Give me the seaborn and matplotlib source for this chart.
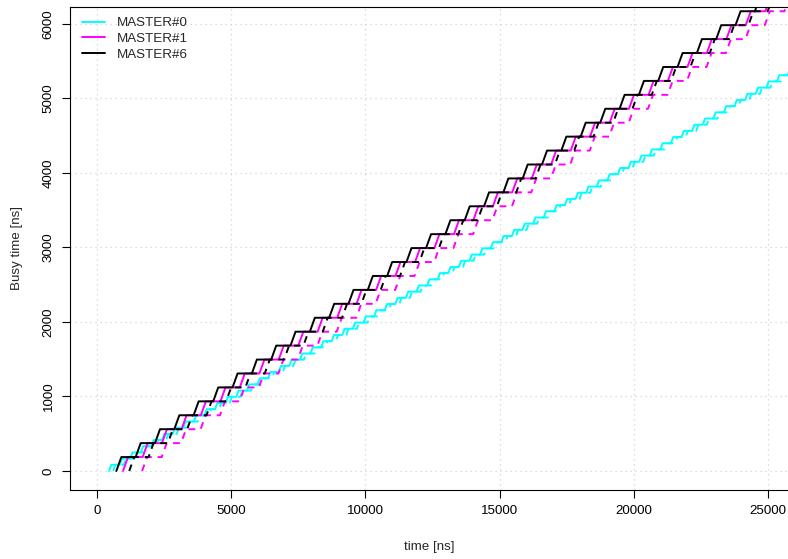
import matplotlib
matplotlib.use('Agg')
import matplotlib.pyplot as plt
from matplotlib.lines import Line2D
import pandas as pd
import seaborn as sns

# Start times [ns] of each busy burst
cyan_starts = [450, 845, 1240, 1635, 2030, 2425, 2820, 3215, 3610, 4005, 4400, 4795,
               5190, 5585, 5980, 6375, 6770, 7165, 7560, 7955, 8350, 8745, 9140, 9535,
               9930, 10325, 10720, 11115, 11510, 11905, 12300, 12695, 13090, 13485,
               13880, 14275, 14670, 15065, 15460, 15855, 16250, 16645, 17040, 17435,
               17830, 18225, 18620, 19015, 19410, 19805, 20200, 20595, 20990, 21385,
               21780, 22175, 22570, 22965, 23360, 23755, 24150, 24545, 24940, 25335, 25730]
magenta_starts = [970, 1700, 2420, 3150, 3870, 4600, 5320, 6050, 6770, 7500, 8220, 8950,
                  9670, 10400, 11120, 11850, 12570, 13300, 14020, 14750, 15470, 16200,
                  16920, 17650, 18370, 19100, 19820, 20550, 21270, 22000, 22720, 23450,
                  24170, 24900]
black_starts = [720, 1440, 2160, 2880, 3600, 4330, 5050, 5770, 6490, 7210, 7930, 8650,
                9370, 10090, 10810, 11530, 12260, 12980, 13700, 14420, 15140, 15860,
                16580, 17300, 18020, 18750, 19470, 20190, 20910, 21630, 22350, 23070,
                23790, 24510]

masters = ['MASTER#0', 'MASTER#1', 'MASTER#6']
colors = ['#00FFFF', '#FF00FF', '#000000']
starts = [cyan_starts, magenta_starts, black_starts]
burst_len = [83, 187, 187]      # busy time added per burst [ns]
dashed_lag = [150, 710, 480]    # shift of the dashed curve [ns]
t_end = 27000

x_ticks = [0, 5000, 10000, 15000, 20000, 25000]
y_ticks = [0, 1000, 2000, 3000, 4000, 5000, 6000]


def busy_curve(st, d):
    xs, ys = [], []
    y = 0
    for t in st:
        xs += [t, t + d]
        ys += [y, y + d]
        y += d
    xs.append(t_end)
    ys.append(y)
    return xs, ys


rows = []
for name, st, d, lag in zip(masters, starts, burst_len, dashed_lag):
    xs, ys = busy_curve(st, d)
    for i, (x, y) in enumerate(zip(xs, ys)):
        rows.append((name, 'busy', i, x, y))
        rows.append((name, 'lagged', i, x + lag, y))
df = pd.DataFrame(rows, columns=['master', 'kind', 'i', 'time', 'busy'])

sns.set_style('white')
plt.rcParams['font.family'] = ['Liberation Sans', 'DejaVu Sans']

fig = plt.figure(figsize=(7.88, 5.59), dpi=100)
ax = fig.add_axes([70 / 788, 69 / 559, 718 / 788, 483 / 559])

for name, c in zip(masters, colors):
    sub = df[df['master'] == name]
    s = sub[sub['kind'] == 'busy']
    sns.lineplot(x=s['time'].values, y=s['busy'].values, color=c, lw=1.4,
                 sort=False, estimator=None, ax=ax)
    s = sub[sub['kind'] == 'lagged']
    line = sns.lineplot(x=s['time'].values, y=s['busy'].values, color=c, lw=1.4,
                        sort=False, estimator=None, ax=ax).lines[-1]
    line.set_dashes((3.5, 3))

ax.set_xlim(-1006, 25745)
ax.set_ylim(-255, 6228)
ax.set_xticks(x_ticks)
ax.set_yticks(y_ticks)
ax.set_xticklabels([str(v) for v in x_ticks])
ax.set_yticklabels([str(v) for v in y_ticks], rotation=90, va='center')
ax.grid(True, color='#D3D3D3', linestyle=(0, (1, 3)), lw=0.9)
ax.set_axisbelow(True)

for side in ['left', 'bottom', 'top']:
    ax.spines[side].set_color('black')
    ax.spines[side].set_linewidth(0.8)
ax.spines['right'].set_visible(False)
ax.tick_params(axis='both', direction='out', length=5.5, width=0.8, color='black',
               pad=5.5, labelsize=9.6, labelcolor='black', bottom=True, left=True)
ax.set_xlabel('time [ns]', fontsize=9.6, labelpad=17)
ax.set_ylabel('Busy time [ns]', fontsize=9.6, labelpad=14)

handles = [Line2D([], [], color=c, lw=1.4) for c in colors]
ax.legend(handles, masters, loc='upper left', bbox_to_anchor=(0.0167, 0.979),
          frameon=False, fontsize=9.6, handlelength=1.73, handletextpad=0.9,
          labelspacing=0.245, borderaxespad=0, borderpad=0)

fig.savefig('out.png', dpi=100)
